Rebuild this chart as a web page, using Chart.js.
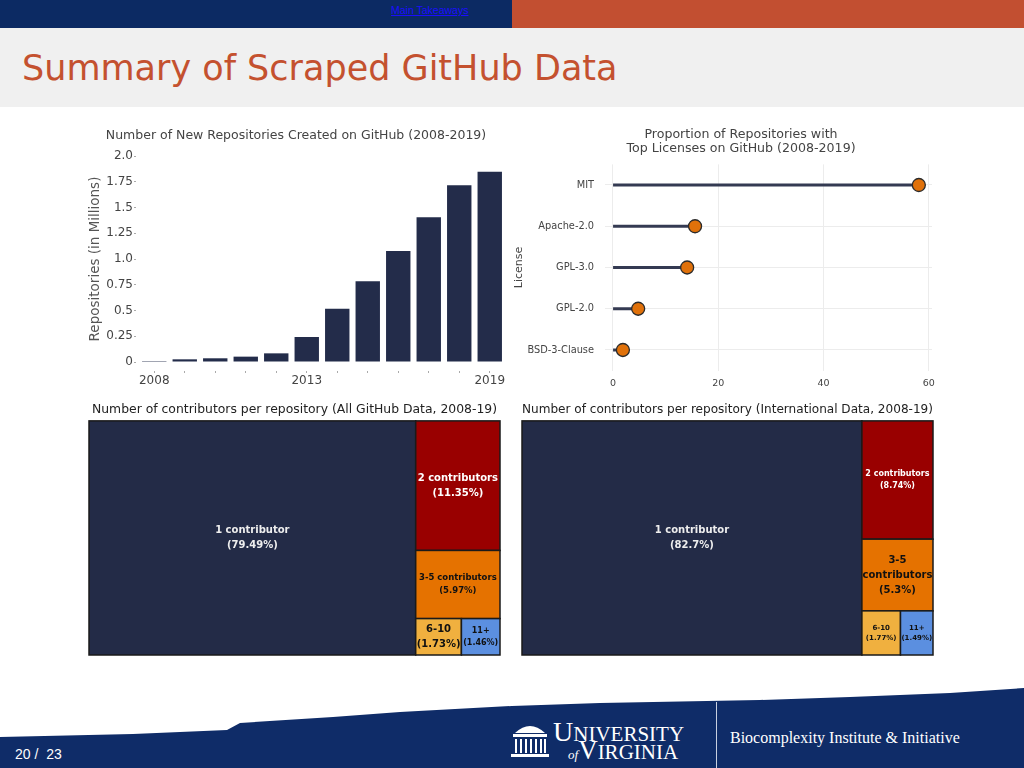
<!DOCTYPE html>
<html>
<head>
<meta charset="utf-8">
<script src="https://cdn.jsdelivr.net/npm/chart.js"></script>
<style>
  body { margin: 0; width: 1024px; height: 768px; position: relative; overflow: hidden; background: #fff; font-family: "DejaVu Sans", sans-serif; }
  .abs { position: absolute; }
  #topL { left: 0; top: 0; width: 512px; height: 28px; background: #0c2a63; }
  #topR { left: 512px; top: 0; width: 512px; height: 28px; background: #c24f31; }
  #link { left: 391px; top: 4px; font: 10.5px "Liberation Sans", Arial, sans-serif; color: #1a0dff; text-decoration: underline; }
  #band { left: 0; top: 28px; width: 1024px; height: 79px; background: #f0f0f0; }
  #title { left: 22px; top: 48px; font-size: 35px; color: #c4512f; white-space: nowrap; }
  canvas { position: absolute; }
  #pageno { left: 15px; top: 746px; font: 14px "Liberation Sans", Arial, sans-serif; color: #fff; }
  #uva1 { left: 553px; top: 716px; font: 21px "Liberation Serif", serif; color: #fff; white-space: nowrap; }
  #uva2 { left: 568px; top: 735px; font: 21px "Liberation Serif", serif; color: #fff; white-space: nowrap; }
  #divider { left: 716px; top: 702px; width: 1px; height: 66px; background: #c8d0e0; }
  #bii { left: 730px; top: 729px; font: 16px "Liberation Serif", serif; color: #fff; white-space: nowrap; }
</style>
</head>
<body>
<div class="abs" id="topL"></div>
<div class="abs" id="topR"></div>
<div class="abs" id="link">Main Takeaways</div>
<div class="abs" id="band"></div>
<div class="abs" id="title">Summary of Scraped GitHub Data</div>

<canvas id="bars" width="440" height="272" style="left:80px;top:120px"></canvas>
<canvas id="lolli" width="440" height="272" style="left:510px;top:120px"></canvas>
<canvas id="treeAll" width="422" height="262" style="left:84px;top:398px"></canvas>
<canvas id="treeIntl" width="425" height="262" style="left:515px;top:398px"></canvas>

<svg class="abs" style="left:0;top:680px" width="1024" height="88">
  <polygon fill="#0f2c68" points="0,57 133,54 227,50 240,43 333,37 400,32 512,26 600,23 760,20 850,17 950,13 1024,8 1024,88 0,88"/>
  <g fill="#fff" transform="translate(511,41)">
    <path d="M4 12 Q19 -2 34 12 Z"/>
    <rect x="2" y="13" width="34" height="3"/>
    <rect x="4" y="18" width="2" height="14"/><rect x="9" y="18" width="2" height="14"/>
    <rect x="14" y="18" width="2" height="14"/><rect x="19" y="18" width="2" height="14"/>
    <rect x="24" y="18" width="2" height="14"/><rect x="29" y="18" width="2" height="14"/>
    <rect x="33" y="18" width="2" height="14"/>
    <rect x="0" y="33" width="38" height="3"/>
  </g>
</svg>
<div class="abs" id="pageno">20 /&nbsp; 23</div>
<div class="abs" id="uva1"><span style="font-size:28px">U</span>NIVERSITY</div>
<div class="abs" id="uva2"><i style="font-size:13px">of</i><span style="font-size:27px">V</span>IRGINIA</div>
<div class="abs" id="divider"></div>
<div class="abs" id="bii">Biocomplexity Institute &amp; Initiative</div>

<script>
  const years = ['2008', '2009', '2010', '2011', '2012', '2013', '2014', '2015', '2016', '2017', '2018', '2019']
  const newRepos = [0.009, 0.026, 0.036, 0.052, 0.084, 0.243, 0.518, 0.783, 1.078, 1.405, 1.715, 1.848]
  const yearsLabelled = ['2008', '2013', '2019']

  const licenses = ['MIT', 'Apache-2.0', 'GPL-3.0', 'GPL-2.0', 'BSD-3-Clause']
  const licenseShare = [58.1, 15.6, 14.1, 4.8, 1.9]
  const licenseTicks = [0, 20, 40, 60]

  const groupsAll = ['1 contributor', '2 contributors', '3-5 contributors', '6-10', '11+']
  const shareAll = [79.49, 11.35, 5.97, 1.73, 1.46]
  const groupsIntl = ['1 contributor', '2 contributors', '3-5\ncontributors', '6-10', '11+']
  const shareIntl = [82.7, 8.74, 5.3, 1.77, 1.49]

  const cellColors = ['#232b47', '#990000', '#e57200', '#f0b03f', '#5b8fe0']
  const cellText = ['#eeeeee', '#ffffff', '#111111', '#111111', '#111111']

  Chart.defaults.font.family = '"DejaVu Sans", sans-serif'
  Chart.defaults.color = '#444'
  Chart.defaults.animation = false
  Chart.defaults.responsive = false
  Chart.defaults.devicePixelRatio = 1
  Chart.defaults.plugins.legend.display = false
  Chart.defaults.plugins.tooltip.enabled = false

  // squarified layout, values sorted largest first
  function worst(row, side) {
    const s = row.reduce((a, b) => a + b, 0)
    const mx = Math.max(...row), mn = Math.min(...row)
    return Math.max(side * side * mx / (s * s), s * s / (side * side * mn))
  }

  function squarify(values, x, y, w, h) {
    const total = values.reduce((a, b) => a + b, 0)
    const areas = values.map(v => v * w * h / total)
    const rects = []
    let i = 0
    while (i < areas.length) {
      const side = Math.min(w, h)
      const row = [areas[i]]
      let j = i + 1
      while (j < areas.length && worst(row.concat(areas[j]), side) <= worst(row, side)) {
        row.push(areas[j])
        j++
      }
      const s = row.reduce((a, b) => a + b, 0)
      if (w >= h) {
        const rw = s / h
        let yy = y
        row.forEach(a => { rects.push({ x, y: yy, w: rw, h: a / rw }); yy += a / rw })
        x += rw; w -= rw
      } else {
        const rh = s / w
        let xx = x
        row.forEach(a => { rects.push({ x: xx, y, w: a / rh, h: rh }); xx += a / rh })
        y += rh; h -= rh
      }
      i = j
    }
    return rects
  }

  const treemap = {
    id: 'treemap',
    afterDatasetsDraw(chart, args, opts) {
      const { ctx, chartArea: a, scales: { x, y } } = chart
      const cells = squarify(opts.values, 0, 0, a.width, a.height)
      cells.forEach((c, i) => {
        const x0 = x.getPixelForValue(c.x / a.width * 100)
        const x1 = x.getPixelForValue((c.x + c.w) / a.width * 100)
        const y0 = y.getPixelForValue(c.y / a.height * 100)
        const y1 = y.getPixelForValue((c.y + c.h) / a.height * 100)
        ctx.save()
        ctx.fillStyle = cellColors[i]
        ctx.fillRect(x0, y0, x1 - x0, y1 - y0)
        ctx.strokeStyle = '#1a1a1a'
        ctx.lineWidth = 1.5
        ctx.strokeRect(x0, y0, x1 - x0, y1 - y0)
        const lines = opts.labels[i].split('\n').concat('(' + opts.values[i] + '%)')
        const size = opts.sizes[i]
        ctx.font = 'bold ' + size + 'px "DejaVu Sans", sans-serif'
        ctx.fillStyle = cellText[i]
        ctx.textAlign = 'center'
        ctx.textBaseline = 'middle'
        const lh = size * 1.5
        const cx = (x0 + x1) / 2, cy = (y0 + y1) / 2
        lines.forEach((t, k) => ctx.fillText(t, cx, cy + (k - (lines.length - 1) / 2) * lh))
        ctx.restore()
      })
    }
  }

  new Chart(document.getElementById('bars'), {
    type: 'bar',
    data: {
      labels: years,
      datasets: [{
        data: newRepos,
        backgroundColor: '#232c4a',
        categoryPercentage: 1,
        barPercentage: 0.8
      }]
    },
    options: {
      layout: { padding: { left: 7, right: 15, top: 0, bottom: 0 } },
      plugins: {
        title: {
          display: true,
          text: 'Number of New Repositories Created on GitHub (2008-2019)',
          font: { size: 12.5, weight: 'normal' },
          color: '#444',
          padding: { top: 8, bottom: 13 }
        }
      },
      scales: {
        x: {
          afterFit: s => { s.height = 30 },
          border: { display: false },
          grid: {
            offset: false, drawOnChartArea: false, tickLength: 11,
            tickColor: '#aaa', tickBorderDash: [2, 9], tickBorderDashOffset: 2
          },
          ticks: {
            padding: 1, font: { size: 12 }, color: '#444', autoSkip: false, maxRotation: 0,
            callback: (v, i) => yearsLabelled.includes(years[i]) ? years[i] : ''
          }
        },
        y: {
          min: 0, max: 2,
          afterFit: s => { s.width = 52 },
          border: { display: false },
          grid: { drawOnChartArea: false, tickLength: 5, tickColor: '#aaa', tickBorderDash: [2, 10] },
          ticks: {
            stepSize: 0.25, padding: 1, font: { size: 12 }, color: '#444',
            callback: v => v === 0 ? '0' : (v % 0.5 === 0 ? v.toFixed(1) : v.toFixed(2))
          },
          title: { display: true, text: 'Repositories (in Millions)', font: { size: 13.5 }, color: '#555', padding: 0 }
        }
      }
    }
  })

  // plotly centres this title a little right of the canvas middle
  const pad = '\u00a0'.repeat(6)

  new Chart(document.getElementById('lolli'), {
    type: 'bar',
    data: {
      labels: licenses,
      datasets: [
        {
          type: 'line',
          data: licenseShare,
          showLine: false,
          pointRadius: 6.5,
          pointBackgroundColor: '#e0710a',
          pointBorderColor: '#2b2b2b',
          pointBorderWidth: 1.3,
          order: 0
        },
        {
          data: licenseShare,
          backgroundColor: '#343a52',
          barThickness: 2.5,
          order: 1
        }
      ]
    },
    options: {
      indexAxis: 'y',
      layout: { padding: { left: 16, right: 18, top: 0, bottom: 0 } },
      plugins: {
        title: {
          display: true,
          text: [pad + 'Proportion of Repositories with', pad + 'Top Licenses on GitHub (2008-2019)'],
          font: { size: 12.6, weight: 'normal', lineHeight: 1.11 },
          color: '#444',
          padding: { top: 8, bottom: 8.4 }
        }
      },
      scales: {
        x: {
          min: -1.5, max: 60.6,
          afterBuildTicks: s => { s.ticks = licenseTicks.map(v => ({ value: v })) },
          afterFit: s => { s.height = 21.4 },
          border: { display: false },
          grid: { color: '#ececec', drawTicks: false },
          ticks: { padding: 7, font: { size: 9.5 }, color: '#444' }
        },
        y: {
          afterFit: s => { s.width = 79 },
          border: { display: false },
          grid: { color: '#ececec', drawTicks: false, offset: false },
          ticks: { padding: 11, font: { size: 9.8 }, color: '#444' },
          title: { display: true, text: 'License', font: { size: 11 }, color: '#444', padding: { top: -13, bottom: 0 } }
        }
      }
    }
  })

  function treeChart(id, title, labels, values, sizes, pad) {
    new Chart(document.getElementById(id), {
      type: 'scatter',
      data: { datasets: [{ data: [] }] },
      plugins: [treemap],
      options: {
        layout: { padding: pad },
        plugins: {
          title: {
            display: true, text: title,
            font: { size: 12.4, weight: 'normal' }, color: '#222',
            padding: { top: 4, bottom: 4 }
          },
          treemap: { labels, values, sizes }
        },
        scales: {
          x: { display: false, min: 0, max: 100 },
          y: { display: false, min: 0, max: 100, reverse: true }
        }
      }
    })
  }

  treeChart('treeAll', 'Number of contributors per repository (All GitHub Data, 2008-19)',
    groupsAll, shareAll, [10, 10, 8.5, 10, 8], { left: 5, right: 6, top: 0, bottom: 5 })
  treeChart('treeIntl', 'Number of contributors per repository (International Data, 2008-19)',
    groupsIntl, shareIntl, [10, 8, 10, 7, 7], { left: 7, right: 7, top: 0, bottom: 5 })
</script>
</body>
</html>
